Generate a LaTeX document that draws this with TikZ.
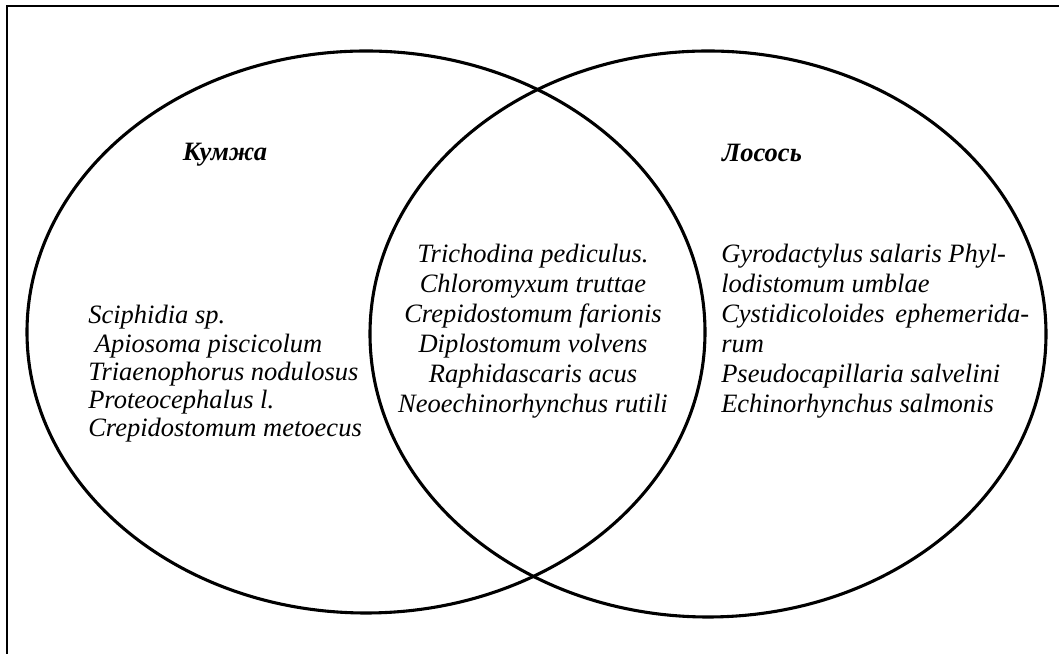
\documentclass[tikz,border=0pt]{standalone}
\usepackage{fontspec}
\setmainfont{Liberation Serif}
\usetikzlibrary{positioning}

\begin{document}
\begin{tikzpicture}
[
frame/.style={
% The border:
line width=1.5pt,
draw=black,
},
fishset/.style={
% The border:
line width=2.2pt,
draw=black,
},
fishname/.style={
% The text:
font=\fontsize{18.85}{21.34}\selectfont\bfseries\itshape,
inner sep=0pt,
anchor=base,
},
species/.style={
% The text:
font=\fontsize{18.85}{21.34}\selectfont\itshape,
inner sep=0pt,
}
]
    \useasboundingbox (0,0) rectangle (26.475,16.35);
    \clip (0,0) rectangle (26.475,16.35);
    \draw[frame] (0.175,-1) rectangle (28,16.2);
    % the two sets
    \draw[fishset] (9.15,8.05) ellipse [x radius=8.475, y radius=7.025];
    \draw[fishset] (17.7,8.0) ellipse [x radius=8.45, y radius=7.075];
    % set names
    \node[fishname] (trout) at (5.625,12.325) {Кумжа};
    \node[fishname] (salmon) at (19.05,12.3) {Лосось};
    % parasites (base = last line)
    \node[species, font=\fontsize{18.85}{20.13}\selectfont\itshape, anchor=base west, align=left] (troutonly) at (2.2,5.425)
      {Sciphidia sp.\\\hspace{0.25em}Apiosoma piscicolum\\Triaenophorus nodulosus\\Proteocephalus l.\\Crepidostomum metoecus};
    \node[species, anchor=base, align=center] (both) at (13.325,6.025)
      {Trichodina pediculus.\\Chloromyxum truttae\\Crepidostomum farionis\\Diplostomum volvens\\Raphidascaris acus\\Neoechinorhynchus rutili};
    \node[species, anchor=base west, align=left] (salmononly) at (18.025,6.025)
      {Gyrodactylus salaris Phyl-\\lodistomum umblae\\Cystidicoloides\hspace{0.15em} ephemerida-\\rum\\Pseudocapillaria salvelini\\Echinorhynchus salmonis};
\end{tikzpicture}
\end{document}
